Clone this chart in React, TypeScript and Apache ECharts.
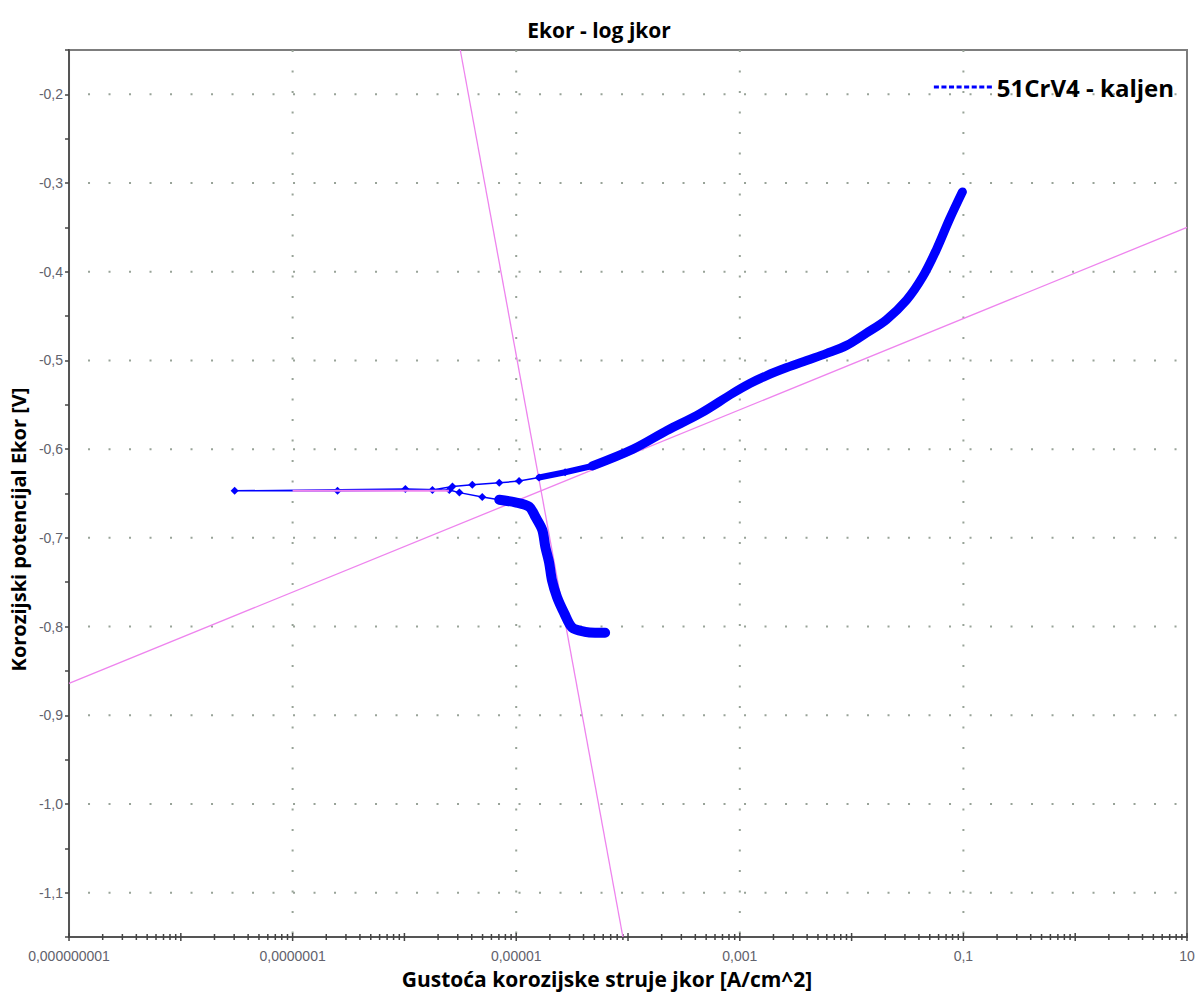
import React, { useEffect, useRef } from 'react';
import * as echarts from 'echarts';

// Current density j [A/cm^2] and potential E [V]
const cathodicJ = [6.24e-5, 5.07e-5, 4.13e-5, 3.16e-5, 2.69e-5, 2.32e-5, 2.09e-5, 1.97e-5, 1.82e-5, 1.71e-5, 1.48e-5, 1.31e-5, 9.8e-6, 7.05e-6, 4.97e-6, 3.1e-6];
const cathodicE = [-0.807, -0.807, -0.806, -0.801, -0.785, -0.767, -0.748, -0.728, -0.71, -0.691, -0.676, -0.665, -0.66, -0.657, -0.654, -0.649];

const noiseJ = [2.52e-6, 1.02e-6, 3.03e-8, 2.52e-7];
const noiseE = [-0.646, -0.645, -0.647, -0.647];

const anodicJ = [1.78e-6, 2.69e-6, 4.05e-6, 7.05e-6, 1.06e-5, 1.6e-5, 2.74e-5, 4.78e-5, 1.11e-4, 2.23e-4, 4.4e-4, 8.65e-4, 1.23e-3, 1.74e-3, 2.63e-3, 3.96e-3, 5.98e-3, 9.02e-3, 1.36e-2, 2.05e-2, 3.1e-2, 4.31e-2, 5.74e-2, 7.5e-2, 9.79e-2];
const anodicE = [-0.646, -0.642, -0.64, -0.638, -0.636, -0.632, -0.626, -0.619, -0.6, -0.579, -0.56, -0.537, -0.526, -0.517, -0.508, -0.5, -0.492, -0.483, -0.469, -0.454, -0.432, -0.406, -0.375, -0.341, -0.31];

// Tafel fit lines
const anodicTafelJ = [1e-9, 10];
const anodicTafelE = [-0.864, -0.35];
const cathodicTafelJ = [3.16e-6, 9.0e-5];
const cathodicTafelE = [-0.15, -1.15];
const ecorrFitJ = [1.0e-7, 2.5e-6];
const ecorrFitE = [-0.647, -0.647];

const xLabelValues = [1e-9, 1e-7, 1e-5, 1e-3, 1e-1, 10];
const xLabelTexts = ['0,000000001', '0,0000001', '0,00001', '0,001', '0,1', '10'];
const xGridValues = [1e-7, 1e-5, 1e-3, 1e-1];
const yGridValues = [-0.2, -0.3, -0.4, -0.5, -0.6, -0.7, -0.8, -0.9, -1.0, -1.1];
const decades = [-9, -8, -7, -6, -5, -4, -3, -2, -1, 0, 1];
const minorMultipliers = [2, 3, 4, 5, 6, 7, 8, 9];

const seriesName = '51CrV4 - kaljen';
const X_MIN = 1e-9;
const X_MAX = 10;
const Y_MIN = -1.15;
const Y_MAX = -0.15;

const zip = (a: number[], b: number[]) => a.map((v, i) => [v, b[i]]);

export default function App() {
  const ref = useRef<HTMLDivElement>(null);
  useEffect(() => {
    if (!ref.current) return;
    const chart = echarts.init(ref.current, null, { renderer: 'svg' });

    const cath = zip(cathodicJ, cathodicE);
    const noise = zip(noiseJ, noiseE);
    const anod = zip(anodicJ, anodicE);
    const all = [...cath, ...noise, ...anod];

    const tickData: number[][] = [];
    decades.forEach((d) => {
      tickData.push([Math.pow(10, d), Y_MIN, 1]);
      if (d < 1) minorMultipliers.forEach((m) => tickData.push([m * Math.pow(10, d), Y_MIN, 0]));
    });

    const blue = '#0000ff';
    const pink = '#ee84ee';
    const gridColor = '#98a398';
    const dash = [2, 18.5];

    chart.setOption({
      animation: false,
      backgroundColor: '#ffffff',
      title: {
        text: 'Ekor - log jkor',
        left: 'center',
        top: 14,
        textStyle: { fontFamily: 'Open Sans', fontWeight: 'bold', fontSize: 21, color: '#000' },
      },
      legend: {
        data: [seriesName],
        right: 19,
        top: 70,
        itemWidth: 58,
        itemHeight: 4,
        icon: 'path://M0,0h5v3h-5z M7.5,0h5v3h-5z M15,0h5v3h-5z M22.5,0h5v3h-5z M30,0h5v3h-5z M37.5,0h5v3h-5z M45,0h5v3h-5z M52.5,0h5v3h-5z',
        itemGap: 8,
        textStyle: { fontFamily: 'Open Sans', fontWeight: 'bold', fontSize: 24, color: '#000' },
      },
      grid: {
        left: 66,
        right: 11,
        top: 50,
        bottom: 57,
        show: true,
        borderColor: '#7d7d7d',
        borderWidth: 2,
        backgroundColor: 'transparent',
      },
      xAxis: {
        type: 'log',
        logBase: 10,
        min: X_MIN,
        max: X_MAX,
        splitNumber: 10,
        name: 'Gustoća korozijske struje jkor [A/cm^2]',
        nameLocation: 'middle',
        nameGap: 31,
        nameTextStyle: {
          fontFamily: 'Open Sans',
          fontWeight: 'bold',
          fontSize: 21,
          color: '#000',
          padding: [0, 42, 0, 0],
        },
        axisLine: { show: true, lineStyle: { color: '#555', width: 2 } },
        axisTick: { show: false },
        splitLine: { show: false },
        axisLabel: {
          fontFamily: 'Liberation Sans',
          fontSize: 14,
          color: '#62626c',
          margin: 12,
          formatter: (v: number) => {
            const i = xLabelValues.findIndex((x) => Math.abs(Math.log10(x) - Math.log10(v)) < 1e-6);
            return i >= 0 ? xLabelTexts[i] : '';
          },
        },
      },
      yAxis: {
        type: 'value',
        min: Y_MIN,
        max: Y_MAX,
        interval: 0.05,
        name: 'Korozijski potencijal Ekor [V]',
        nameLocation: 'middle',
        nameGap: 34,
        nameTextStyle: {
          fontFamily: 'Open Sans',
          fontWeight: 'bold',
          fontSize: 20,
          color: '#000',
          padding: [0, 72, 0, 0],
        },
        axisLine: { show: true, lineStyle: { color: '#555', width: 2 } },
        axisTick: { show: true, length: 4, lineStyle: { color: '#444', width: 1.5 } },
        splitLine: { show: false },
        axisLabel: {
          fontFamily: 'Liberation Sans',
          fontSize: 14,
          color: '#62626c',
          margin: 6,
          formatter: (v: number) => {
            const r = Math.round(v * 100);
            if (r % 10 !== 0) return '';
            return (r / 100).toFixed(1).replace('.', ',');
          },
        },
      },
      series: [
        {
          type: 'custom',
          name: 'vgrid',
          silent: true,
          clip: false,
          data: xGridValues.map((x) => [x, Y_MIN]),
          encode: { x: 0, y: 1 },
          renderItem: (params: any, api: any) => {
            const p0 = api.coord([api.value(0), Y_MAX]);
            const p1 = api.coord([api.value(0), Y_MIN]);
            return {
              type: 'line',
              shape: { x1: p0[0], y1: p0[1], x2: p1[0], y2: p1[1] },
              style: { stroke: gridColor, lineWidth: 2, lineDash: dash },
            };
          },
          z: 1,
        },
        {
          type: 'custom',
          name: 'hgrid',
          silent: true,
          clip: false,
          data: yGridValues.map((y) => [X_MIN, y]),
          encode: { x: 0, y: 1 },
          renderItem: (params: any, api: any) => {
            const p0 = api.coord([X_MIN, api.value(1)]);
            const p1 = api.coord([X_MAX, api.value(1)]);
            return {
              type: 'line',
              shape: { x1: p0[0] + 19, y1: p0[1], x2: p1[0], y2: p1[1] },
              style: { stroke: gridColor, lineWidth: 2, lineDash: dash },
            };
          },
          z: 1,
        },
        {
          type: 'custom',
          name: 'ticks',
          silent: true,
          clip: false,
          data: tickData,
          encode: { x: 0, y: 1 },
          renderItem: (params: any, api: any) => {
            const p = api.coord([api.value(0), api.value(1)]);
            const len = api.value(2) ? 4 : 3;
            return {
              type: 'line',
              shape: { x1: p[0], y1: p[1] - len, x2: p[0], y2: p[1] + len },
              style: { stroke: '#444', lineWidth: 1.5 },
            };
          },
        },
        {
          type: 'line',
          name: 'anodicTafel',
          data: zip(anodicTafelJ, anodicTafelE),
          showSymbol: false,
          lineStyle: { color: pink, width: 1.3 },
          silent: true,
        },
        {
          type: 'line',
          name: 'cathodicTafel',
          data: zip(cathodicTafelJ, cathodicTafelE),
          showSymbol: false,
          lineStyle: { color: pink, width: 1.3 },
          silent: true,
        },
        {
          type: 'line',
          name: seriesName,
          data: all,
          symbol: 'diamond',
          symbolSize: 8,
          showAllSymbol: true,
          itemStyle: { color: blue },
          lineStyle: { color: blue, width: 1.5, type: 'solid' },
          z: 3,
        },
        {
          type: 'line',
          name: 'anodic-dense',
          data: anod.filter((p) => p[0] >= 4e-5),
          showSymbol: false,
          smooth: 0.35,
          lineStyle: { color: blue, width: 9, cap: 'round', join: 'round' },
          z: 3,
        },
        {
          type: 'line',
          name: 'anodic-mid',
          data: anod.filter((p) => p[0] >= 1.5e-5 && p[0] <= 5e-5),
          showSymbol: false,
          lineStyle: { color: blue, width: 6, cap: 'round', join: 'round' },
          z: 3,
        },
        {
          type: 'line',
          name: 'cathodic-dense',
          data: cath.filter((p) => p[1] < -0.655),
          showSymbol: false,
          smooth: 0.3,
          lineStyle: { color: blue, width: 10, cap: 'round', join: 'round' },
          z: 3,
        },
        {
          type: 'line',
          name: 'ecorrFit',
          data: zip(ecorrFitJ, ecorrFitE),
          showSymbol: false,
          lineStyle: { color: pink, width: 2 },
          silent: true,
          z: 4,
        },
      ],
    });
    return () => chart.dispose();
  }, []);
  return <div ref={ref} style={{ position: 'absolute', left: 0, top: 0, width: 1198, height: 994 }} />;
}
